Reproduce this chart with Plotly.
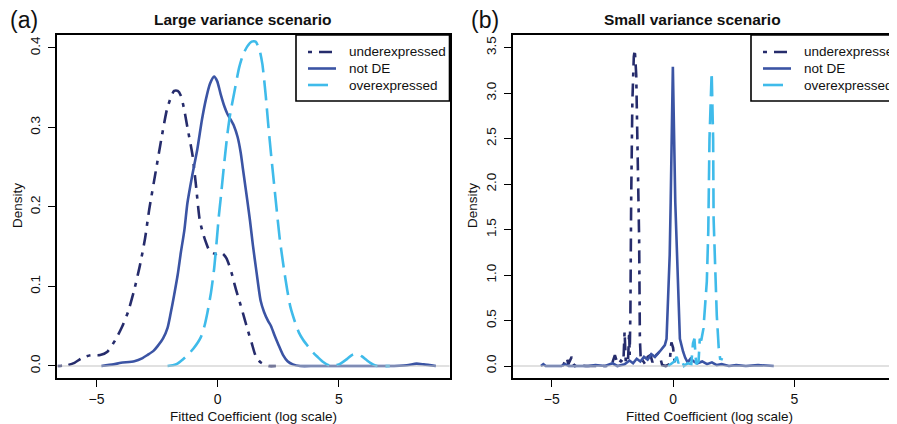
import plotly.graph_objects as go

# The page body has an 8px margin, so the figure is laid out in screen pixels minus OFF.
OFF = 8
W, H = 897 - OFF, 424 - OFF

# ---------------- data: panel (a) large variance ----------------
a_under_x = [-6.60, -6.2, -5.91, -5.6, -5.25, -4.85, -4.55, -4.2, -3.95, -3.70, -3.45, -3.22, -3.0, -2.83,
             -2.55, -2.3, -2.1, -1.93, -1.80, -1.65, -1.52, -1.38, -1.25, -1.04, -0.90, -0.75, -0.62,
             -0.48, -0.36, -0.20, -0.05, 0.10, 0.22, 0.35, 0.47, 0.60, 0.70, 0.82, 0.95, 1.10, 1.22,
             1.40, 1.56, 1.75, 1.91, 2.10, 2.40]
a_under_y = [0.000, 0.001, 0.004, 0.010, 0.0135, 0.0137, 0.018, 0.034, 0.049, 0.068, 0.095, 0.125, 0.160, 0.196,
             0.246, 0.290, 0.322, 0.338, 0.346, 0.346, 0.340, 0.322, 0.300, 0.265, 0.228, 0.185, 0.168,
             0.155, 0.146, 0.142, 0.141, 0.143, 0.141, 0.136, 0.127, 0.114, 0.102, 0.089, 0.076, 0.060, 0.047,
             0.029, 0.013, 0.005, 0.002, 0.000, 0.000]

a_notde_x = [-4.80, -4.3, -3.99, -3.44, -3.1, -2.89, -2.65, -2.48, -2.25, -2.07, -1.95, -1.80, -1.65, -1.52,
             -1.38, -1.25, -1.05, -0.84, -0.65, -0.49, -0.32, -0.15, -0.02, 0.12, 0.28, 0.40, 0.55, 0.67,
             0.82, 0.95, 1.03, 1.13, 1.23, 1.33, 1.45, 1.60, 1.77, 1.91, 2.07, 2.20, 2.35, 2.50, 2.69,
             2.88, 3.10, 3.40, 4.0, 5.0, 6.0, 7.0, 7.8, 8.2, 8.5, 9.0]
a_notde_y = [0.000, 0.002, 0.004, 0.006, 0.010, 0.014, 0.019, 0.025, 0.035, 0.048, 0.065, 0.089, 0.115, 0.143,
             0.170, 0.205, 0.240, 0.273, 0.310, 0.335, 0.355, 0.364, 0.358, 0.342, 0.326, 0.317, 0.309, 0.302,
             0.288, 0.268, 0.250, 0.228, 0.206, 0.183, 0.152, 0.118, 0.082, 0.068, 0.057, 0.050, 0.038, 0.027, 0.014,
             0.006, 0.002, 0.000, 0.000, 0.000, 0.000, 0.000, 0.001, 0.003, 0.002, 0.000]

a_over_x = [-2.07, -1.85, -1.66, -1.45, -1.25, -1.0, -0.70, -0.55, -0.42, -0.28, -0.15, -0.05, 0.05, 0.12,
            0.25, 0.40, 0.52, 0.67, 0.88, 1.05, 1.22, 1.40, 1.56, 1.72, 1.84, 1.98, 2.08, 2.20, 2.32,
            2.42, 2.55, 2.73, 2.87, 3.00, 3.18, 3.35, 3.52, 3.69, 3.90, 4.10, 4.35, 4.65, 5.0, 5.34,
            5.55, 5.75, 5.95, 6.16, 6.4, 6.57, 7.1]
a_over_y = [0.000, 0.001, 0.003, 0.008, 0.0135, 0.022, 0.036, 0.050, 0.068, 0.092, 0.122, 0.155, 0.190, 0.210,
            0.250, 0.292, 0.318, 0.342, 0.375, 0.392, 0.402, 0.408, 0.408, 0.398, 0.380, 0.340, 0.305, 0.266, 0.230,
            0.200, 0.162, 0.122, 0.095, 0.074, 0.056, 0.042, 0.033, 0.026, 0.018, 0.012, 0.005, 0.000, 0.002, 0.009,
            0.014, 0.0155, 0.012, 0.007, 0.002, 0.000, 0.000]

# ---------------- data: panel (b) small variance ----------------
b_under_x = [-4.55, -4.45, -4.38, -4.32, -4.25, -4.18, -4.12, -4.05, -3.9, -3.6, -3.0, -2.6, -2.5, -2.4,
             -2.32, -2.25, -2.15, -2.05, -2.00, -1.95, -1.86, -1.81, -1.79, -1.76, -1.73, -1.68, -1.62,
             -1.58, -1.52, -1.46, -1.40, -1.37, -1.33, -1.25, -1.15, -1.05, -0.93, -0.85, -0.75, -0.62,
             -0.52, -0.45, -0.30, -0.15, -0.07, 0.0, 0.07, 0.20]
b_under_y = [0.00, 0.06, 0.09, 0.02, 0.07, 0.10, 0.03, 0.00, 0.01, 0.00, 0.00, 0.00, 0.04, 0.12,
             0.05, 0.02, 0.06, 0.04, 0.38, 0.03, 0.05, 0.38, 0.12, 0.60, 1.80, 2.90, 3.40,
             3.48, 3.20, 2.40, 1.40, 0.30, 0.05, 0.06, 0.02, 0.10, 0.12, 0.04, 0.11, 0.14,
             0.08, 0.01, 0.00, 0.02, 0.26, 0.20, 0.02, 0.00]

b_notde_x = [-5.45, -5.35, -5.25, -4.6, -4.45, -4.3, -3.5, -3.2, -2.8, -2.5, -2.3, -2.0, -1.8, -1.65, -1.5,
             -1.35, -1.2, -1.05, -0.9, -0.75, -0.55, -0.34, -0.27, -0.21, -0.14, -0.10, -0.01, 0.09, 0.14,
             0.21, 0.28, 0.41, 0.5, 0.6, 0.72, 0.85, 1.0, 1.2, 1.4, 1.6, 1.8, 2.0, 2.3, 2.6, 3.0, 3.5, 4.15]
b_notde_y = [0.00, 0.02, 0.00, 0.00, 0.02, 0.00, 0.00, 0.01, 0.00, 0.03, 0.00, 0.02, 0.06, 0.03, 0.08,
             0.05, 0.10, 0.07, 0.13, 0.10, 0.16, 0.23, 0.30, 0.67, 1.22, 1.80, 3.29, 1.80, 1.40,
             1.04, 0.30, 0.16, 0.09, 0.04, 0.08, 0.05, 0.03, 0.05, 0.02, 0.04, 0.01, 0.02, 0.00, 0.01, 0.00, 0.01, 0.00]

b_over_x = [-0.20, -0.10, 0.05, 0.15, 0.22, 0.35, 0.45, 0.60, 0.75, 0.82, 0.88, 0.95, 1.05, 1.10, 1.16,
            1.25, 1.39, 1.45, 1.50, 1.59, 1.65, 1.67, 1.73, 1.80, 1.88, 1.94, 2.05]
b_over_y = [0.00, 0.02, 0.05, 0.10, 0.03, 0.07, 0.00, 0.03, 0.02, 0.25, 0.30, 0.02, 0.05, 0.30, 0.28,
            0.41, 0.93, 1.48, 2.50, 3.23, 2.50, 1.62, 1.04, 0.56, 0.20, 0.08, 0.07]

y_ticks_a = [0.0, 0.1, 0.2, 0.3, 0.4]
y_ticks_b = [0.0, 0.5, 1.0, 1.5, 2.0, 2.5, 3.0, 3.5]
x_ticks = [-5, 0, 5]
series_names = ["underexpressed", "not DE", "overexpressed"]

# ---------------- styling ----------------
FONT = "Liberation Sans, Arial, Helvetica, sans-serif"
COL_UNDER = "#262c6c"
COL_NDE = "#3b54a4"
COL_OVER = "#3fbbea"
DASH_UNDER = "4px,7px,13px,7px"
DASH_OVER = "20px,8px"
LW = 2.6


def fx(px):
    return (px - OFF) / W


def fy(py):
    return 1 - (py - OFF) / H


fig = go.Figure()


def add(x, y, color, dash, xa, ya, shape):
    fig.add_trace(go.Scatter(x=x, y=y, mode="lines",
                             line=dict(color=color, width=LW, dash=dash, shape=shape, smoothing=0.6),
                             xaxis=xa, yaxis=ya, showlegend=False, hoverinfo="skip"))


add(a_under_x, a_under_y, COL_UNDER, DASH_UNDER, "x", "y", "spline")
add(a_notde_x, a_notde_y, COL_NDE, "solid", "x", "y", "spline")
add(a_over_x, a_over_y, COL_OVER, DASH_OVER, "x", "y", "spline")
add(b_under_x, b_under_y, COL_UNDER, DASH_UNDER, "x2", "y2", "linear")
add(b_notde_x, b_notde_y, COL_NDE, "solid", "x2", "y2", "linear")
add(b_over_x, b_over_y, COL_OVER, DASH_OVER, "x2", "y2", "linear")

ydom = [fy(378), fy(35)]
common_x = dict(tickvals=x_ticks, ticks="outside", ticklen=7, tickwidth=1, tickcolor="black",
                showline=True, linecolor="black", linewidth=2, showgrid=False, zeroline=False,
                tickfont=dict(family=FONT, size=14, color="#111"))
common_y = dict(ticks="outside", ticklen=7, tickwidth=1, tickcolor="black", tickangle=-90,
                showline=True, linecolor="black", linewidth=2, showgrid=False, zeroline=False,
                tickfont=dict(family=FONT, size=13.5, color="#111"), tickformat=".1f", domain=ydom,
                ticklabelstandoff=3)

fig.update_layout(
    width=W, height=H, autosize=False,
    margin=dict(l=0, r=0, t=0, b=0),
    paper_bgcolor="white", plot_bgcolor="white",
    xaxis=dict(domain=[fx(57), fx(449.5)], range=[-6.63, 9.56], anchor="y", mirror=True, **common_x),
    yaxis=dict(range=[-0.0151, 0.4163], tickvals=y_ticks_a, anchor="x", mirror=True, **common_y),
    xaxis2=dict(domain=[fx(513), 1.0], range=[-6.60, 9.23], anchor="y2", mirror=True, **common_x),
    yaxis2=dict(range=[-0.132, 3.64], tickvals=y_ticks_b, anchor="x2", mirror=False, **common_y),
)

shapes = []
# zero reference lines
for xr, yr in (("x domain", "y"), ("x2 domain", "y2")):
    shapes.append(dict(type="line", xref=xr, yref=yr, x0=0, x1=1, y0=0, y1=0,
                       line=dict(color="#c4c4c4", width=1.2), layer="above"))

annotations = []


def txt(x, y, s, size=13, bold=False, xanchor="center", angle=0):
    annotations.append(dict(x=x, y=y, xref="paper", yref="paper", text=("<b>%s</b>" % s) if bold else s,
                            showarrow=False, xanchor=xanchor, yanchor="middle", textangle=angle,
                            font=dict(family=FONT, size=size, color="#111")))


def legend(x0, x1, sx0, sx1, tx):
    shapes.append(dict(type="rect", xref="paper", yref="paper", x0=fx(x0), x1=fx(x1), y0=fy(101), y1=fy(35),
                       line=dict(color="black", width=1.6), fillcolor="white", layer="above"))
    rows = [52, 68.5, 85]
    styles = [(COL_UNDER, DASH_UNDER), (COL_NDE, "solid"), (COL_OVER, DASH_OVER)]
    for name, ry, (c, d) in zip(series_names, rows, styles):
        shapes.append(dict(type="line", xref="paper", yref="paper", x0=fx(sx0), x1=fx(sx1), y0=fy(ry), y1=fy(ry),
                           line=dict(color=c, width=LW, dash=d), layer="above"))
        txt(fx(tx), fy(ry), name, size=13.5, xanchor="left")


legend(296, 449.5, 308, 336, 347)
legend(751, 915, 763, 791, 802)

txt(fx(8), fy(20), "(a)", size=23, xanchor="left")
txt(fx(469), fy(20), "(b)", size=23, xanchor="left")
txt(fx(243), fy(19), "Large variance scenario", size=15.5, bold=True)
txt(fx(692.5), fy(19), "Small variance scenario", size=15.5, bold=True)
txt(fx(253.5), fy(416), "Fitted Coefficient (log scale)", size=13.5)
txt(fx(709), fy(416), "Fitted Coefficient (log scale)", size=13.5)
txt(fx(17), fy(206), "Density", size=13.5, angle=-90)
txt(fx(472), fy(206), "Density", size=13.5, angle=-90)

fig.update_layout(shapes=shapes, annotations=annotations)

fig.write_html("out.html")
